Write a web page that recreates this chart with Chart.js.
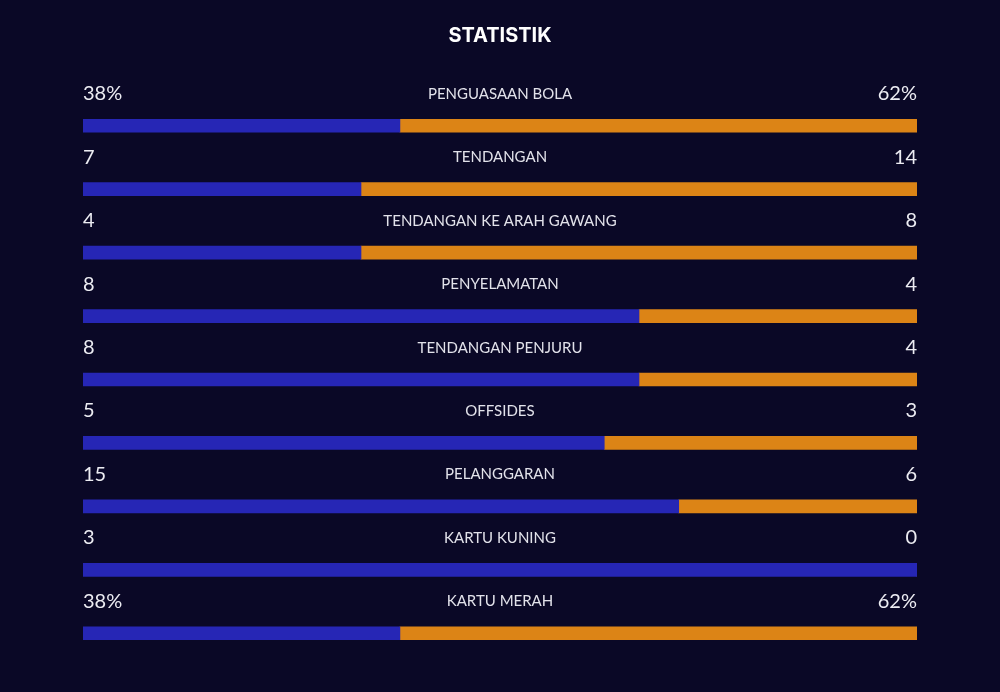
<!DOCTYPE html>
<html>
<head>
<meta charset="utf-8">
<script src="https://cdn.jsdelivr.net/npm/chart.js@4/dist/chart.umd.min.js"></script>
<style>
    html, body { margin: 0; padding: 0; background: #0a0826; }
    #wrap { width: 1000px; height: 692px; }
</style>
</head>
<body>
<div id="wrap"><canvas id="statChart" width="1000" height="692"></canvas></div>
<script>
// Kategori statistik
const categories = [
    "PENGUASAAN BOLA", "TENDANGAN", "TENDANGAN KE ARAH GAWANG", "PENYELAMATAN",
    "TENDANGAN PENJURU", "OFFSIDES", "PELANGGARAN", "KARTU KUNING", "KARTU MERAH"
];
// Nilai tim kiri (biru) dan kanan (oranye)
const homeValues = [38, 7, 4, 8, 8, 5, 15, 3, 38];
const awayValues = [62, 14, 8, 4, 4, 3, 6, 0, 62];
// Teks yang ditampilkan di atas batang
const homeLabels = ["38%", "7", "4", "8", "8", "5", "15", "3", "38%"];
const awayLabels = ["62%", "14", "8", "4", "4", "3", "6", "0", "62%"];

const homeShare = homeValues.map((v, i) => v / (v + awayValues[i]) * 100);
const awayShare = awayValues.map((v, i) => v / (homeValues[i] + v) * 100);

// Plugin: latar, judul dan teks di atas setiap batang
const statText = {
    id: "statText",
    beforeDraw(chart) {
        const c = chart.ctx;
        c.save();
        c.fillStyle = "#0a0826";
        c.fillRect(0, 0, chart.width, chart.height);
        c.restore();
    },
    afterDraw(chart) {
        const c = chart.ctx;
        const area = chart.chartArea;
        const meta = chart.getDatasetMeta(0);
        c.save();
        c.fillStyle = "#ffffff";
        c.font = "700 20px Inter, Lato, sans-serif";
        c.textAlign = "center";
        c.textBaseline = "alphabetic";
        c.fillText("STATISTIK", 500, 42);

        meta.data.forEach((bar, i) => {
            const top = bar.y - bar.height / 2;
            c.fillStyle = "#ececf2";
            c.font = "20px Lato, sans-serif";
            c.textAlign = "left";
            c.fillText(homeLabels[i], area.left, top - 19);
            c.textAlign = "right";
            c.fillText(awayLabels[i], area.right, top - 19);
            c.fillStyle = "#e2e2ea";
            c.font = "15px Lato, sans-serif";
            c.textAlign = "center";
            c.fillText(categories[i], (area.left + area.right) / 2, top - 20.5);
        });
        c.restore();
    }
};

new Chart(document.getElementById("statChart").getContext("2d"), {
    type: "bar",
    data: {
        labels: categories,
        datasets: [
            { label: "Kiri", data: homeShare, backgroundColor: "#2626b5", borderWidth: 0, barThickness: 13 },
            { label: "Kanan", data: awayShare, backgroundColor: "#dc8416", borderWidth: 0, barThickness: 13 }
        ]
    },
    options: {
        indexAxis: "y",
        responsive: false,
        animation: false,
        layout: { padding: { left: 83, right: 83, top: 94, bottom: 27 } },
        plugins: {
            legend: { display: false },
            tooltip: { enabled: false }
        },
        scales: {
            x: { stacked: true, min: 0, max: 100, display: false },
            y: { stacked: true, display: false }
        }
    },
    plugins: [statText]
});
</script>
</body>
</html>
